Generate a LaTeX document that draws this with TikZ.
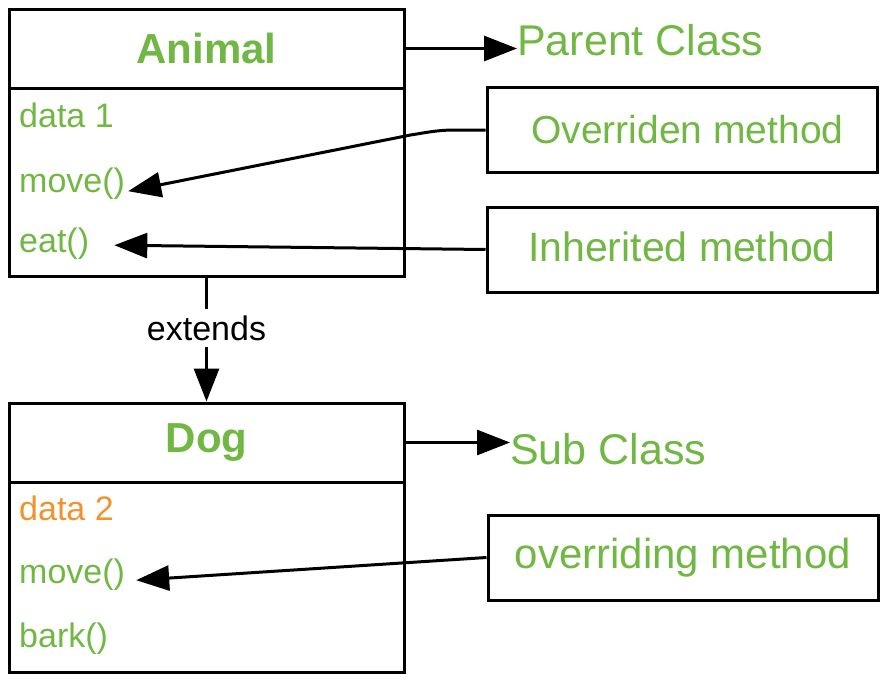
\documentclass[tikz,border=0pt]{standalone}
\usepackage{fontspec}
\setmainfont{Liberation Sans}
\usepackage{xcolor}
\usepackage{tikz}
\usetikzlibrary{
  arrows.meta,
  calc,
  positioning
}
\definecolor{leaf}{HTML}{70B843}
\definecolor{amber}{HTML}{F0922E}
\definecolor{ink}{HTML}{000000}
\tikzset{
  every node/.style={text=ink},
  classhead/.style={
    draw=ink,
    line width=3pt,
    minimum width=395pt,
    minimum height=79pt,
    inner sep=0pt,
    font=\fontsize{42}{48}\selectfont\bfseries,
    text=leaf
  },
  classbody/.style={
    draw=ink,
    line width=3pt,
    minimum width=395pt,
    inner sep=0pt
  },
  member/.style={
    anchor=base west,
    inner sep=1pt,
    font=\fontsize{34}{40}\selectfont,
    text=leaf
  },
  notebox/.style={
    draw=ink,
    line width=3pt,
    minimum width=390pt,
    minimum height=85pt,
    inner sep=0pt,
    font=\fontsize{42}{48}\selectfont,
    text=leaf
  },
  tag/.style={
    anchor=base west,
    inner sep=0pt,
    font=\fontsize{43}{48}\selectfont,
    text=leaf
  },
  arr/.style={-{Triangle[length=33pt,width=25pt]}, line width=3pt, draw=ink},
  link/.style={line width=3pt, draw=ink},
}

\begin{document}
\begin{tikzpicture}[x=1pt, y=-1pt]

  \useasboundingbox (0,0) rectangle (886,680);

  % =====================================================================
  % PARENT CLASS
  % =====================================================================
  \node[classhead] (animal) at (206.5, 48.5) {Animal};
  \node[classbody, minimum height=188pt] (animalbody) at (206.5, 182) {};

  \node[member] (adata) at (18, 127) {data 1};
  \node[member] (amove) at (18, 192) {move()};
  \node[member] (aeat)  at (18, 252) {eat()};

  \node[tag] (parent) at (517, 55) {Parent Class};
  \draw[arr] (animal.east) -- (animal.east -| parent.west);

  % Notes on the parent's methods
  \node[notebox, font=\fontsize{39}{44}\selectfont] (overriden) at (682, 130) {~Overriden method};
  \node[notebox, font=\fontsize{41}{46}\selectfont] (inherited) at (682, 249.5) {\raisebox{5pt}{Inherited method}};

  \draw[arr]
    (overriden.west) -- ++(-30, 0)
      to[out=180, in=9] ++(-45, 5)
    -- ([xshift=2pt, yshift=-8pt]amove.east);
  \draw[arr] (inherited.west) -- ([xshift=24pt, yshift=-2pt]aeat.east);

  % =====================================================================
  % extends
  % =====================================================================
  \node[font=\fontsize{34}{40}\selectfont, inner sep=0pt, minimum height=38pt] (extends) at (206.5, 328) {extends};
  \draw[link] (animalbody.south) -- (extends.north);

  % =====================================================================
  % SUB CLASS
  % =====================================================================
  \node[classhead] (dog) at (206.5, 442.5) {Dog};
  \node[classbody, minimum height=190pt] (dogbody) at (206.5, 577) {};
  \draw[arr] (extends.south) -- (dog.north);

  \node[member, text=amber] (ddata) at (18, 520) {data 2};
  \node[member] (dmove) at (18, 583) {move()};
  \node[member] (dbark) at (18, 647) {bark()};

  \node[tag] (sub) at (510, 464) {Sub Class};
  \draw[arr] (dog.east) -- (dog.east -| sub.west);

  \node[notebox] (overriding) at (683, 557.5) {overriding method};
  \draw[arr] (overriding.west) -- ([xshift=10pt, yshift=-6pt]dmove.east);

\end{tikzpicture}
\end{document}
